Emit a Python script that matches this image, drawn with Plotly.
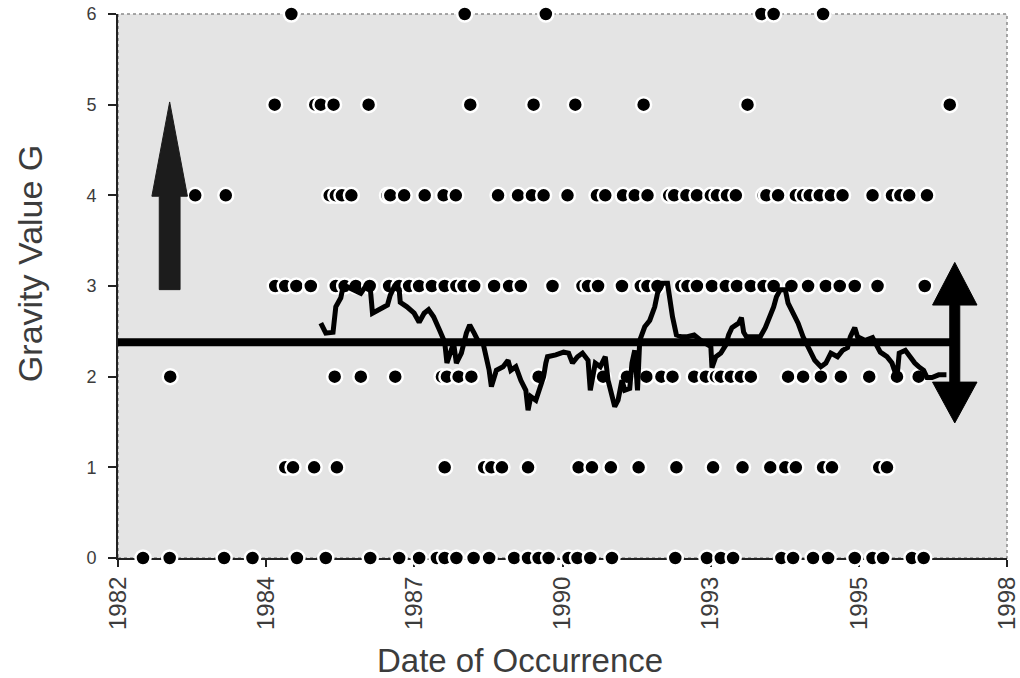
import plotly.graph_objects as go

# ---------------- data ----------------
# individual events: (date in decimal years) per gravity level G
dates_g6 = [1985.12, 1988.24, 1989.70, 1993.58, 1993.80, 1994.69]
dates_g5 = [1984.82, 1985.55, 1985.65, 1985.88, 1986.51, 1988.34, 1989.48,
            1990.23, 1991.46, 1993.33, 1996.97]
dates_g4 = [1983.39, 1983.94, 1985.81, 1985.92, 1986.03, 1986.20, 1986.85,
            1986.90, 1987.15, 1987.52, 1987.86, 1988.08, 1988.84, 1989.20,
            1989.45, 1989.66, 1990.09, 1990.62, 1990.77, 1991.09, 1991.30,
            1991.53, 1991.92, 1992.01, 1992.23, 1992.42, 1992.67, 1992.78,
            1992.96, 1993.12, 1993.62, 1993.67, 1993.88, 1994.20, 1994.33,
            1994.45, 1994.63, 1994.83, 1995.04, 1995.58, 1995.93, 1996.08,
            1996.24, 1996.56]
dates_g3 = [1984.83, 1985.01, 1985.21, 1985.47, 1985.92, 1986.08, 1986.28,
            1986.53, 1986.88, 1987.06, 1987.24, 1987.42, 1987.65, 1987.88,
            1988.09, 1988.22, 1988.41, 1988.77, 1989.04, 1989.25, 1989.82,
            1990.36, 1990.46, 1990.64, 1991.07, 1991.41, 1991.53, 1991.71,
            1992.14, 1992.25, 1992.42, 1992.69, 1992.94, 1993.14, 1993.39,
            1993.62, 1993.80, 1994.12, 1994.42, 1994.74, 1994.99, 1995.26,
            1995.67, 1996.52]
dates_g2 = [1982.94, 1985.90, 1986.37, 1986.99, 1987.83, 1987.92, 1988.13,
            1988.36, 1989.57, 1990.73, 1991.16, 1991.51, 1991.78, 1991.98,
            1992.37, 1992.58, 1992.76, 1992.85, 1993.03, 1993.21, 1993.39,
            1994.06, 1994.33, 1994.65, 1995.01, 1995.52, 1996.02, 1996.41]
dates_g1 = [1985.01, 1985.15, 1985.53, 1985.94, 1987.88, 1988.59, 1988.72,
            1988.91, 1989.38, 1990.29, 1990.53, 1990.87, 1991.37, 1992.05,
            1992.71, 1993.24, 1993.74, 1994.01, 1994.20, 1994.69, 1994.85,
            1995.70, 1995.84]
dates_g0 = [1982.45, 1982.93, 1983.91, 1984.42, 1985.22, 1985.74, 1986.54,
            1987.06, 1987.42, 1987.74, 1987.88, 1988.09, 1988.40, 1988.68,
            1989.13, 1989.38, 1989.57, 1989.75, 1990.11, 1990.27, 1990.50,
            1990.89, 1992.03, 1992.60, 1992.85, 1993.07, 1993.94, 1994.15,
            1994.51, 1994.78, 1995.26, 1995.58, 1995.77, 1996.29, 1996.50]
levels = [6, 5, 4, 3, 2, 1, 0]
dates_by_level = [dates_g6, dates_g5, dates_g4, dates_g3, dates_g2, dates_g1, dates_g0]

# running mean of G
ma_dates = [1985.65, 1985.74, 1985.87, 1985.92, 1986.01, 1986.04, 1986.13, 1986.26,
            1986.37, 1986.45, 1986.54, 1986.58, 1986.70, 1986.85, 1986.90, 1986.97,
            1987.06, 1987.08, 1987.20, 1987.33, 1987.42, 1987.51, 1987.59, 1987.68,
            1987.79, 1987.88, 1987.92, 1987.97, 1988.04, 1988.09, 1988.18, 1988.27,
            1988.33, 1988.41, 1988.50, 1988.57, 1988.63, 1988.68, 1988.72, 1988.81,
            1988.93, 1989.02, 1989.07, 1989.16, 1989.25, 1989.34, 1989.38, 1989.43,
            1989.52, 1989.61, 1989.66, 1989.70, 1989.73, 1989.88, 1990.02, 1990.11,
            1990.18, 1990.27, 1990.36, 1990.46, 1990.50, 1990.59, 1990.68, 1990.77,
            1990.82, 1990.94, 1991.00, 1991.07, 1991.12, 1991.21, 1991.25, 1991.30,
            1991.35, 1991.39, 1991.48, 1991.57, 1991.66, 1991.71, 1991.80, 1991.89,
            1991.92, 1991.98, 1992.05, 1992.14, 1992.25, 1992.37, 1992.49, 1992.67,
            1992.69, 1992.76, 1992.85, 1992.94, 1992.99, 1993.05, 1993.17, 1993.22,
            1993.26, 1993.31, 1993.47, 1993.56, 1993.65, 1993.71, 1993.80, 1993.85,
            1993.92, 1994.01, 1994.06, 1994.15, 1994.24, 1994.33, 1994.45, 1994.54,
            1994.65, 1994.74, 1994.83, 1994.95, 1995.04, 1995.13, 1995.18, 1995.26,
            1995.31, 1995.45, 1995.58, 1995.67, 1995.72, 1995.84, 1995.93, 1996.02,
            1996.06, 1996.17, 1996.25, 1996.34, 1996.41, 1996.50, 1996.56, 1996.65,
            1996.77, 1996.91]
ma_values = [2.59, 2.48, 2.49, 2.77, 2.87, 2.96, 2.99, 2.96,
             2.92, 2.99, 2.98, 2.70, 2.74, 2.79, 2.90, 2.99,
             2.96, 2.82, 2.77, 2.70, 2.60, 2.70, 2.74, 2.66,
             2.51, 2.38, 2.15, 2.26, 2.37, 2.15, 2.26, 2.48,
             2.57, 2.48, 2.37, 2.37, 2.22, 2.07, 1.89, 2.07,
             2.11, 2.18, 2.07, 2.11, 1.96, 1.85, 1.63, 1.78,
             1.74, 1.93, 2.00, 2.15, 2.22, 2.24, 2.27, 2.26,
             2.15, 2.22, 2.26, 2.18, 1.85, 2.15, 2.11, 2.22,
             1.96, 1.67, 1.74, 1.96, 1.85, 1.87, 2.15, 2.29,
             1.85, 2.40, 2.55, 2.62, 2.77, 2.92, 3.03, 3.03,
             2.88, 2.66, 2.46, 2.44, 2.44, 2.46, 2.40, 2.33,
             2.10, 2.22, 2.26, 2.35, 2.46, 2.54, 2.59, 2.65,
             2.49, 2.44, 2.44, 2.44, 2.54, 2.62, 2.77, 2.88,
             2.96, 2.96, 2.81, 2.70, 2.59, 2.44, 2.29, 2.18,
             2.11, 2.15, 2.26, 2.22, 2.29, 2.32, 2.44, 2.54,
             2.44, 2.40, 2.43, 2.33, 2.27, 2.22, 2.15, 1.99,
             2.26, 2.29, 2.22, 2.15, 2.11, 2.07, 1.99, 1.99,
             2.02, 2.02]

# overall mean of G and its extent
mean_g = 2.38
mean_span = [1982.0, 1997.0]

# axis ticks
x_range = [1982, 1998]
x_tick_pos = [1982.0, 1984.667, 1987.333, 1990.0, 1992.667, 1995.333, 1998.0]
x_tick_text = ["1982", "1984", "1987", "1990", "1993", "1995", "1998"]
y_tick_pos = [0, 1, 2, 3, 4, 5, 6]

# arrow glyphs (data units): centre x, shaft half width, head half width, y stops
up_arrow = dict(x=1982.93, shaft=0.187, head=0.32, y_base=2.96, y_head=3.99, y_tip=5.03)
dbl_arrow = dict(x=1997.06, shaft=0.09, head=0.40, y_top=3.26, y_top_base=2.79,
                 y_bot_base=1.94, y_bot=1.49)

# ---------------- figure ----------------
fig = go.Figure()

for lvl, ds in zip(levels, dates_by_level):
    fig.add_trace(go.Scatter(
        x=ds, y=[lvl] * len(ds), mode="markers", cliponaxis=False,
        marker=dict(size=15, color="black", line=dict(color="white", width=2.5)),
        showlegend=False, hoverinfo="x+y"))

fig.add_trace(go.Scatter(x=mean_span, y=[mean_g, mean_g], mode="lines",
                         line=dict(color="black", width=8), showlegend=False))
fig.add_trace(go.Scatter(x=ma_dates, y=ma_values, mode="lines",
                         line=dict(color="black", width=5), showlegend=False))


def up_path(a):
    x, s, h = a["x"], a["shaft"], a["head"]
    return (f"M {x-s},{a['y_base']} L {x+s},{a['y_base']} L {x+s},{a['y_head']} "
            f"L {x+h},{a['y_head']} L {x},{a['y_tip']} L {x-h},{a['y_head']} "
            f"L {x-s},{a['y_head']} Z")


def dbl_path(a):
    x, s, h = a["x"], a["shaft"], a["head"]
    return (f"M {x},{a['y_top']} L {x+h},{a['y_top_base']} L {x+s},{a['y_top_base']} "
            f"L {x+s},{a['y_bot_base']} L {x+h},{a['y_bot_base']} L {x},{a['y_bot']} "
            f"L {x-h},{a['y_bot_base']} L {x-s},{a['y_bot_base']} L {x-s},{a['y_top_base']} "
            f"L {x-h},{a['y_top_base']} Z")


fig.add_shape(type="path", xref="x", yref="y", path=up_path(up_arrow),
              fillcolor="#1c1c1c", line=dict(color="#1c1c1c", width=1), layer="above")
fig.add_shape(type="path", xref="x", yref="y", path=dbl_path(dbl_arrow),
              fillcolor="black", line=dict(color="black", width=1), layer="above")
# dotted frame (top / right)
fig.add_shape(type="rect", xref="paper", yref="paper", x0=0, x1=1, y0=0, y1=1,
              line=dict(color="#8a8a8a", width=1.5, dash="dot"), layer="below")

font_family = "Liberation Sans, Arial, sans-serif"
text_color = "#3c3c3c"
fig.update_layout(
    width=1020, height=678,
    margin=dict(l=118, r=13, t=14, b=120, autoexpand=False),
    paper_bgcolor="white", plot_bgcolor="#e4e4e4",
    font=dict(family=font_family, color=text_color),
    xaxis=dict(range=x_range, tickmode="array", tickvals=x_tick_pos, ticktext=x_tick_text,
               tickangle=-90, tickfont=dict(size=24, color=text_color),
               ticklabeloverflow="allow", automargin=False,
               ticks="outside", ticklen=7, tickcolor="#222", tickwidth=1.5,
               showline=True, linecolor="#222", linewidth=2, showgrid=False,
               zeroline=False, layer="below traces"),
    yaxis=dict(range=[0, 6], tickmode="array", tickvals=y_tick_pos,
               tickfont=dict(size=18, color=text_color), automargin=False,
               ticks="outside", ticklen=8, tickcolor="#222", tickwidth=1.5,
               ticklabelstandoff=8,
               showline=True, linecolor="#222", linewidth=2, showgrid=False,
               zeroline=False, layer="below traces"),
    annotations=[
        dict(text="Date of Occurrence", xref="paper", yref="paper", x=0.452, y=-0.189,
             xanchor="center", yanchor="middle", showarrow=False,
             font=dict(size=33, color=text_color)),
        dict(text="Gravity Value G", xref="paper", yref="paper", x=-0.099, y=0.542,
             xanchor="center", yanchor="middle", showarrow=False, textangle=-90,
             font=dict(size=34, color=text_color)),
    ],
)

fig.write_html("out.html")
